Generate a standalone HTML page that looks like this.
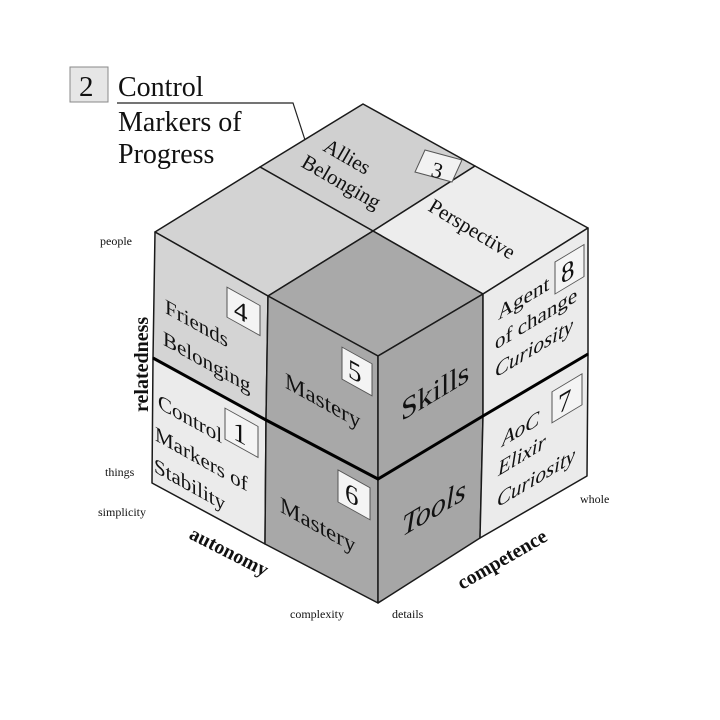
<!DOCTYPE html>
<html><head><meta charset="utf-8"><style>html,body{margin:0;padding:0;background:#fff}svg{display:block}</style></head>
<body>
<svg width="720" height="720" viewBox="0 0 720 720" xmlns="http://www.w3.org/2000/svg" font-family="Liberation Serif, serif" fill="#111">
<rect width="720" height="720" fill="#fff"/>
<g stroke="#1a1a1a" stroke-width="1.5" stroke-linejoin="round">
<polygon points="363,104 475,166 373,231 260,167" fill="#d0d0d0"/>
<polygon points="260,167 373,231 268,296 155,232" fill="#d3d3d3"/>
<polygon points="475,166 588,228 483,294 373,231" fill="#ededed"/>
<polygon points="373,231 483,294 378,356 268,296" fill="#a9a9a9"/>
<polygon points="155,232 268,296 266,420 153,358" fill="#d4d4d4"/>
<polygon points="153,358 266,420 265,544 152,483" fill="#ebebeb"/>
<polygon points="268,296 378,356 378,479 266,420" fill="#a8a8a8"/>
<polygon points="266,420 378,479 378,603 265,544" fill="#a8a8a8"/>
<polygon points="378,356 483,294 483,416 378,479" fill="#a6a6a6"/>
<polygon points="378,479 483,416 480,538 378,603" fill="#a6a6a6"/>
<polygon points="483,294 588,228 588,354 483,416" fill="#ebebeb"/>
<polygon points="483,416 588,354 587,476 480,538" fill="#ebebeb"/>
</g>
<g stroke="#000" stroke-width="3" fill="none">
<polyline points="153,358 266,420 378,479 483,416 588,354"/>
</g>
<rect x="70" y="67" width="38" height="35" fill="#e6e6e6" stroke="#888" stroke-width="1"/>
<text x="79" y="96" font-size="29">2</text>
<text x="118" y="96" font-size="28">Control</text>
<text x="118" y="131" font-size="28">Markers of</text>
<text x="118" y="163" font-size="28">Progress</text>
<polyline points="117,103 293,103 305,140" fill="none" stroke="#222" stroke-width="1.2"/>
<text transform="translate(322,150) rotate(30)" font-size="21">Allies</text>
<text transform="translate(300,166) rotate(30)" font-size="21">Belonging</text>
<polygon points="425,150 462,160 452,182 415,172" fill="#f2f2f2" stroke="#555" stroke-width="1"/>
<text transform="translate(430,176) rotate(15)" font-size="22">3</text>
<text transform="translate(427,210) rotate(31)" font-size="21">Perspective</text>
<g transform="matrix(1,0.556,0,1,0,0)">
<text x="165" y="221" font-size="21">Friends</text>
<text x="163" y="254" font-size="21">Belonging</text>
<rect x="227" y="161" width="33" height="30" fill="#f4f4f4" stroke="#555" stroke-width="1"/>
<text x="234" y="186" font-size="27">4</text>
<text x="158" y="320" font-size="21">Control</text>
<text x="155" y="354" font-size="21">Markers of</text>
<text x="154" y="386" font-size="21">Stability</text>
<rect x="225" y="283" width="33" height="31" fill="#f4f4f4" stroke="#555" stroke-width="1"/>
<text x="233" y="309" font-size="27">1</text>
<text x="285" y="229" font-size="23">Mastery</text>
<rect x="342" y="157" width="30" height="32" fill="#f4f4f4" stroke="#555" stroke-width="1"/>
<text x="348" y="183" font-size="27">5</text>
<text x="280" y="356" font-size="23">Mastery</text>
<rect x="338" y="282" width="32" height="32" fill="#f4f4f4" stroke="#555" stroke-width="1"/>
<text x="345" y="308" font-size="27">6</text>
</g>
<g transform="matrix(1,-0.6,0,1,0,0)">
<text x="401" y="662" font-size="30">Skills</text>
<text x="402" y="778" font-size="30" font-style="italic">Tools</text>
<text x="498" y="619" font-size="21">Agent</text>
<text x="495" y="647" font-size="21">of change</text>
<text x="495" y="675" font-size="21" font-style="italic">Curiosity</text>
<rect x="555" y="595" width="29" height="32" fill="#f4f4f4" stroke="#555" stroke-width="1"/>
<text x="561" y="621" font-size="27">8</text>
<text x="502" y="748" font-size="21" font-style="italic">AoC</text>
<text x="498" y="775" font-size="21" font-style="italic">Elixir</text>
<text x="497" y="806" font-size="21" font-style="italic">Curiosity</text>
<rect x="552" y="723" width="30" height="31" fill="#f4f4f4" stroke="#555" stroke-width="1"/>
<text x="558" y="749" font-size="27">7</text>
</g>
<text transform="translate(148,412) rotate(-90)" font-size="20" font-weight="bold">relatedness</text>
<text x="100" y="245" font-size="12">people</text>
<text x="105" y="476" font-size="12">things</text>
<text x="98" y="516" font-size="12">simplicity</text>
<text transform="translate(188,538) rotate(27)" font-size="20" font-weight="bold">autonomy</text>
<text x="290" y="618" font-size="12">complexity</text>
<text x="392" y="618" font-size="12">details</text>
<text transform="translate(462,590) rotate(-30)" font-size="20" font-weight="bold">competence</text>
<text x="580" y="503" font-size="12">whole</text>
</svg>
</body></html>
